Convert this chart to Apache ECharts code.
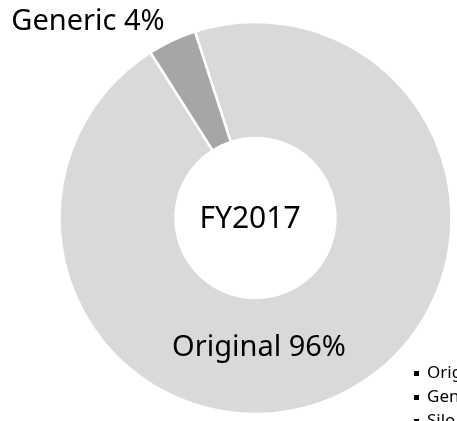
<!DOCTYPE html>
<html>
<head>
<meta charset="utf-8">
<script src="https://cdn.jsdelivr.net/npm/echarts@6/dist/echarts.min.js"></script>
<style>
    html, body { margin: 0; padding: 0; background: #fff; }
    #chart { width: 457px; height: 421px; }
</style>
</head>
<body>
<div id="chart"></div>
<script>
// share of products, FY2017
const categories = ['Original', 'Generic', 'Silo']
const shares = [96, 4, 0]
const yearLabel = 'FY2017'

const colors = ['#d9d9d9', '#a6a6a6', '#7f7f7f']
const fontFamily = '"Noto Sans", sans-serif'

const myChart = echarts.init(document.getElementById('chart'))

const pieData = categories.map((name, i) => {
    return {
        name: name,
        value: shares[i],
        itemStyle: { color: colors[i], borderWidth: shares[i] > 0 ? 2.5 : 0 },
        label: { show: shares[i] > 0 }
    }
})

const option = {
    backgroundColor: '#fff',
    animation: false,
    legend: {
        orient: 'vertical',
        left: 414,
        top: 365,
        height: 90,
        padding: 0,
        itemGap: 7,
        itemWidth: 5,
        itemHeight: 5,
        icon: 'rect',
        itemStyle: { color: '#000', borderWidth: 0 },
        textStyle: {
            color: '#000',
            fontSize: 17,
            lineHeight: 17,
            fontFamily: fontFamily,
            padding: [0, 0, 0, 3]
        },
        data: categories
    },
    graphic: [
        {
            type: 'text',
            x: 250,
            y: 219,
            style: {
                text: yearLabel,
                fill: '#000',
                font: '30px "Noto Sans", sans-serif',
                textAlign: 'center',
                textVerticalAlign: 'middle'
            }
        }
    ],
    series: [
        {
            type: 'pie',
            center: [255.5, 218],
            radius: [80, 196],
            startAngle: 108,
            clockwise: true,
            avoidLabelOverlap: false,
            itemStyle: { borderColor: '#fff' },
            label: {
                show: true,
                position: 'outside',
                formatter: '{b} {c}%',
                color: '#000',
                fontSize: 29,
                fontFamily: fontFamily
            },
            labelLine: { show: false },
            labelLayout: function (params) {
                // labels sit where the original put them
                if (params.dataIndex === 0) {
                    return { x: 259, y: 348, align: 'center', verticalAlign: 'middle' }
                }
                return { x: 88, y: 22, align: 'center', verticalAlign: 'middle' }
            },
            emphasis: { disabled: true },
            data: pieData
        }
    ]
}
myChart.setOption(option)
</script>
</body>
</html>
